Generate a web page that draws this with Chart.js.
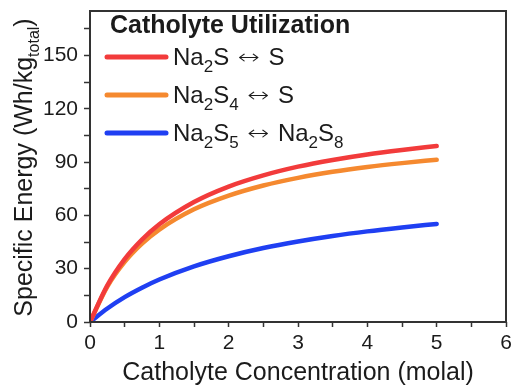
<!DOCTYPE html>
<html>
<head>
<meta charset="utf-8">
<script src="https://cdn.jsdelivr.net/npm/chart.js@4/dist/chart.umd.min.js"></script>
<style>
  html, body { margin: 0; padding: 0; background: #ffffff; }
  #wrap { width: 513px; height: 385px; }
</style>
</head>
<body>
<div id="wrap"><canvas id="chart" width="513" height="385"></canvas></div>
<script>
// Catholyte concentration (molal) and specific energy (Wh/kg_total) per redox couple
const concentration = [0, 0.25, 0.5, 0.75, 1, 1.5, 2, 2.5, 3, 3.5, 4, 4.5, 5];
const na2sToS       = [0, 20.6, 35.4, 46.4, 55.0, 67.5, 76.2, 82.5, 87.4, 91.2, 94.3, 96.8, 99.0];
const na2s4ToS      = [0, 19.9, 33.8, 44.1, 52.0, 63.4, 71.1, 76.8, 81.1, 84.5, 87.2, 89.4, 91.3];
const na2s5ToNa2s8  = [0, 7.6, 14.0, 19.3, 23.9, 31.3, 37.0, 41.6, 45.3, 48.4, 51.0, 53.2, 55.2];

const seriesLabels = ['Na₂S ↔ S', 'Na₂S₄ ↔ S', 'Na₂S₅ ↔ Na₂S₈'];
const legendTitle = 'Catholyte Utilization';
const xTitle = 'Catholyte Concentration (molal)';
const yTitle = 'Specific Energy (Wh/kg_{total})';

const xTickValues = [0, 0.5, 1, 1.5, 2, 2.5, 3, 3.5, 4, 4.5, 5, 5.5, 6];
const yTickValues = [0, 15, 30, 45, 60, 75, 90, 105, 120, 135, 150, 165];
const xRange = [0, 6];
const yRange = [0, 175];

const FONT = '"Liberation Sans", Arial, Helvetica, sans-serif';
const ARROW_FONT = '"DejaVu Sans", sans-serif';
const INK = '#1b1b1b';
const FRAME = '#333333';
const colors = ['#f23b3b', '#f5892f', '#1f3ff2'];
const ARROW_WIDTH = 22;   // drawn width of the ↔ glyph in legend entries

function toPoints(ys) { return concentration.map((x, i) => ({ x: x, y: ys[i] })); }

// Split a label into normal / subscript / arrow runs (unicode subscript digits or _{...})
const SUB_DIGITS = { '₀':'0','₁':'1','₂':'2','₃':'3','₄':'4','₅':'5','₆':'6','₇':'7','₈':'8','₉':'9' };
function textRuns(str) {
  const runs = [];
  const push = (t, kind) => {
    const last = runs[runs.length - 1];
    if (last && last.kind === kind && kind !== 'arrow') last.text += t; else runs.push({ text: t, kind: kind });
  };
  const chars = Array.from(str);
  let i = 0;
  while (i < chars.length) {
    const ch = chars[i];
    if (ch === '_' && chars[i + 1] === '{') {
      const end = chars.indexOf('}', i + 2);
      push(chars.slice(i + 2, end).join(''), 'sub');
      i = end + 1;
      continue;
    }
    if (SUB_DIGITS[ch]) push(SUB_DIGITS[ch], 'sub');
    else if (ch === '↔') push(ch, 'arrow');
    else push(ch, 'text');
    i++;
  }
  return runs;
}

function runFont(r, size, subSize, weight) {
  if (r.kind === 'arrow') return '200 ' + Math.round(size * 0.85) + 'px ' + ARROW_FONT;
  return (weight || 'normal') + ' ' + (r.kind === 'sub' ? subSize : size) + 'px ' + FONT;
}

function runWidth(ctx, r) {
  if (r.kind === 'arrow') return ARROW_WIDTH + 4;
  return ctx.measureText(r.text).width;
}

function richWidth(ctx, runs, size, subSize, weight) {
  let w = 0;
  runs.forEach(r => { ctx.font = runFont(r, size, subSize, weight); w += runWidth(ctx, r); });
  return w;
}

function drawRich(ctx, runs, x, y, size, subSize, drop, weight) {
  ctx.textAlign = 'left';
  ctx.textBaseline = 'alphabetic';
  let cx = x;
  runs.forEach(r => {
    ctx.font = runFont(r, size, subSize, weight);
    if (r.kind === 'arrow') {
      const natural = ctx.measureText(r.text).width;
      ctx.save();
      ctx.translate(cx + 2, y - 1);
      ctx.scale(ARROW_WIDTH / natural, 1);
      ctx.fillText(r.text, 0, 0);
      ctx.restore();
    } else {
      ctx.fillText(r.text, cx, r.kind === 'sub' ? y + drop : y);
    }
    cx += runWidth(ctx, r);
  });
}

// Frame, axis titles and the in-plot legend
const decorations = {
  id: 'decorations',
  afterDraw(chart) {
    const ctx = chart.ctx;
    const a = chart.chartArea;
    ctx.save();

    // plot frame
    ctx.strokeStyle = FRAME;
    ctx.lineWidth = 2;
    ctx.strokeRect(a.left, a.top, a.right - a.left, a.bottom - a.top);

    ctx.fillStyle = INK;

    // x axis title
    const xr = textRuns(xTitle);
    const xw = richWidth(ctx, xr, 25, 16);
    drawRich(ctx, xr, (a.left + a.right) / 2 - xw / 2, 380, 25, 16, 7);

    // y axis title (rotated)
    const yr = textRuns(yTitle);
    const yw = richWidth(ctx, yr, 25, 16);
    ctx.save();
    ctx.translate(31.5, (a.top + a.bottom) / 2 + 1);
    ctx.rotate(-Math.PI / 2);
    drawRich(ctx, yr, -yw / 2, 0, 25, 16, 7);
    ctx.restore();

    // legend
    ctx.font = 'bold 25px ' + FONT;
    ctx.textAlign = 'left';
    ctx.textBaseline = 'alphabetic';
    ctx.fillText(legendTitle, a.left + 20, a.top + 22);

    chart.data.datasets.forEach((ds, i) => {
      const base = a.top + 54 + i * 38;
      const ly = base - 8;
      ctx.strokeStyle = ds.borderColor;
      ctx.lineWidth = 5;
      ctx.lineCap = 'round';
      ctx.beginPath();
      ctx.moveTo(a.left + 17, ly);
      ctx.lineTo(a.left + 76, ly);
      ctx.stroke();
      ctx.fillStyle = INK;
      drawRich(ctx, textRuns(ds.label), a.left + 83, base, 24, 17, 7);
    });

    ctx.restore();
  }
};

const datasets = [na2sToS, na2s4ToS, na2s5ToNa2s8].map((ys, i) => ({
  label: seriesLabels[i],
  data: toPoints(ys),
  borderColor: colors[i],
  backgroundColor: colors[i],
  borderWidth: 4.5,
  pointRadius: 0,
  cubicInterpolationMode: 'monotone',
  fill: false,
  borderCapStyle: 'round'
}));

new Chart(document.getElementById('chart'), {
  type: 'line',
  data: { datasets: datasets },
  options: {
    responsive: false,
    animation: false,
    devicePixelRatio: 1,
    layout: { padding: { top: 11, right: 7, left: 0, bottom: 0 } },
    plugins: { legend: { display: false }, tooltip: { enabled: false }, title: { display: false } },
    scales: {
      x: {
        type: 'linear',
        min: xRange[0],
        max: xRange[1],
        afterBuildTicks: s => { s.ticks = xTickValues.map(v => ({ value: v })); },
        afterFit: s => { s.height = 63; s.paddingLeft = 0; s.paddingRight = 0; },
        border: { display: false },
        grid: { display: true, drawOnChartArea: false, drawTicks: true, tickLength: 5, tickColor: FRAME, tickWidth: 1.5 },
        ticks: {
          autoSkip: false,
          maxRotation: 0,
          padding: 4,
          color: INK,
          font: { family: FONT, size: 21 },
          callback: v => (Number.isInteger(v) ? String(v) : '')
        }
      },
      y: {
        type: 'linear',
        min: yRange[0],
        max: yRange[1],
        afterBuildTicks: s => { s.ticks = yTickValues.map(v => ({ value: v })); },
        afterFit: s => { s.width = 90; s.paddingTop = 0; s.paddingBottom = 0; },
        border: { display: false },
        grid: { display: true, drawOnChartArea: false, drawTicks: true, tickLength: 6, tickColor: FRAME, tickWidth: 1.5 },
        ticks: {
          autoSkip: false,
          padding: 6,
          color: INK,
          font: { family: FONT, size: 21 },
          callback: v => (v % 30 === 0 ? String(v) : '')
        }
      }
    }
  },
  plugins: [decorations]
});
</script>
</body>
</html>
